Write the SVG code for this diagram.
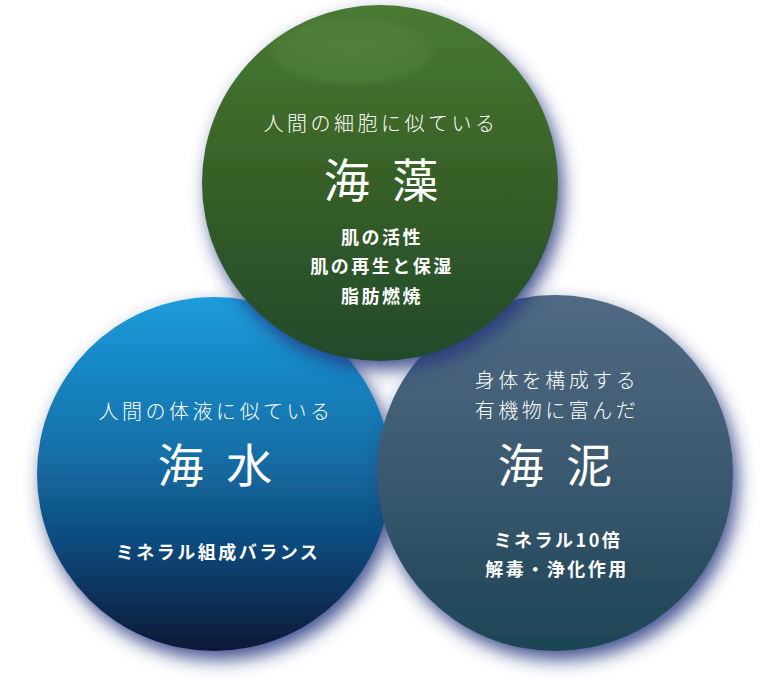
<svg xmlns="http://www.w3.org/2000/svg" width="767" height="684" viewBox="0 0 767 684">
  <defs>
    <linearGradient id="gGreen" x1="0" y1="0" x2="0" y2="1">
      <stop offset="0" stop-color="#4a7a32"/>
      <stop offset="0.5" stop-color="#365f27"/>
      <stop offset="1" stop-color="#234a2c"/>
    </linearGradient>
    <linearGradient id="gBlue" x1="0" y1="0" x2="0" y2="1">
      <stop offset="0" stop-color="#1c9cdc"/>
      <stop offset="0.45" stop-color="#146ea6"/>
      <stop offset="0.72" stop-color="#0e4677"/>
      <stop offset="1" stop-color="#0a1836"/>
    </linearGradient>
    <linearGradient id="gSlate" x1="0" y1="0" x2="0" y2="1">
      <stop offset="0" stop-color="#516a83"/>
      <stop offset="0.5" stop-color="#3a596f"/>
      <stop offset="1" stop-color="#1d4456"/>
    </linearGradient>
    <radialGradient id="gShine" cx="0.5" cy="0.5" r="0.5">
      <stop offset="0" stop-color="#5f8f48" stop-opacity="0.45"/>
      <stop offset="0.8" stop-color="#5f8f48" stop-opacity="0.3"/>
      <stop offset="1" stop-color="#5f8f48" stop-opacity="0"/>
    </radialGradient>
    <filter id="shadow" x="-20%" y="-20%" width="140%" height="140%">
      <feDropShadow dx="5" dy="9" stdDeviation="9" flood-color="#27357e" flood-opacity="0.85"/>
    </filter>
    <style>
      .lead { font-family: "Noto Sans CJK JP", sans-serif; font-weight: 300; font-size: 20px; letter-spacing: 3.5px; fill: #ffffff; text-anchor: middle; }
      .title { font-family: "Noto Sans CJK JP", sans-serif; font-weight: 400; font-size: 46px; letter-spacing: 6px; fill: #ffffff; text-anchor: middle; }
      .point { font-family: "Noto Sans CJK JP", sans-serif; font-weight: 700; font-size: 18px; letter-spacing: 2.5px; fill: #ffffff; text-anchor: middle; }
    </style>
  </defs>
  <rect width="767" height="684" fill="#ffffff"/>

  <g id="node-kaisui">
    <circle cx="214" cy="474" r="177" fill="url(#gBlue)" filter="url(#shadow)"/>
    <text class="lead" x="216" y="419">人間の体液に似ている</text>
    <text class="title" x="218" y="482">海 水</text>
    <text class="point" x="218" y="559">ミネラル組成バランス</text>
  </g>

  <g id="node-kaidei">
    <circle cx="555" cy="473" r="178" fill="url(#gSlate)" filter="url(#shadow)"/>
    <text class="lead" x="557" y="388">身体を構成する</text>
    <text class="lead" x="557" y="418">有機物に富んだ</text>
    <text class="title" x="558" y="482">海 泥</text>
    <text class="point" x="558" y="547">ミネラル10倍</text>
    <text class="point" x="557" y="576">解毒・浄化作用</text>
  </g>

  <g id="node-kaisou">
    <circle cx="380" cy="183" r="178" fill="url(#gGreen)" filter="url(#shadow)"/>
    <ellipse cx="352" cy="52" rx="88" ry="36" fill="url(#gShine)"/>
    <text class="lead" x="381" y="131">人間の細胞に似ている</text>
    <text class="title" x="384" y="197">海 藻</text>
    <text class="point" x="382" y="244">肌の活性</text>
    <text class="point" x="382" y="273">肌の再生と保湿</text>
    <text class="point" x="382" y="303">脂肪燃焼</text>
  </g>

  <g id="connectors"/>
</svg>
